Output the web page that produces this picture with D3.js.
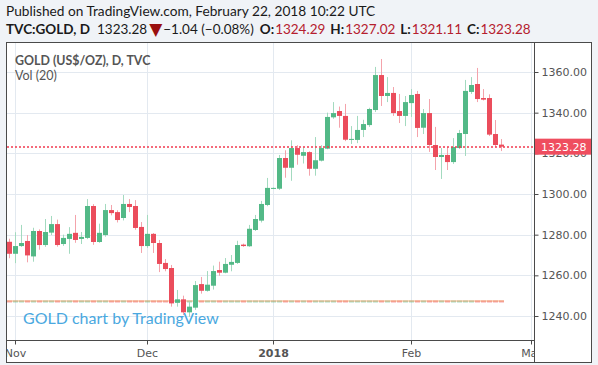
<!DOCTYPE html>
<html><head><meta charset="utf-8">
<script src="https://cdn.jsdelivr.net/npm/d3@7"></script>
<style>
html,body{margin:0;padding:0;background:#f0f3f7;}
svg{display:block;}
</style></head>
<body><svg id="c" width="598" height="365"></svg>
<script>
// ---- data (Oct 31, 2017 .. Feb 22, 2018, daily, weekdays) ----
const openV  = [1276.5,1270.6,1274.4,1276.9,1269.3,1281.8,1274.9,1281.0,1285.2,1275.4,1277.9,1280.9,1277.9,1278.4,1294.1,1276.4,1279.8,1292.1,1291.1,1288.2,1295.1,1294.1,1283.8,1274.4,1280.4,1275.9,1266.1,1263.6,1246.5,1248.2,1241.8,1244.1,1255.7,1252.4,1254.9,1262.6,1261.3,1265.2,1266.1,1275.1,1274.3,1282.3,1286.9,1294.6,1302.6,1302.6,1317.7,1312.9,1322.6,1318.8,1320.6,1312.4,1316.4,1322.3,1337.7,1340.8,1338.4,1326.6,1326.6,1331.5,1333.9,1341.3,1358.5,1348.2,1349.7,1340.8,1338.4,1344.7,1349.2,1332.6,1339.8,1324.1,1318.2,1319.2,1315.7,1322.6,1329.5,1350.2,1354.1,1347.2,1347.2,1329.5,1324.29];
const highV  = [1278.0,1281.2,1284.8,1279.8,1283.4,1282.6,1287.7,1289.2,1287.4,1280.0,1283.7,1289.7,1281.3,1297.5,1295.0,1285.4,1295.1,1294.6,1292.0,1299.5,1297.5,1297.0,1286.2,1289.7,1280.8,1277.4,1268.0,1265.1,1252.8,1250.0,1247.0,1257.2,1259.2,1262.1,1264.8,1266.7,1268.5,1270.0,1277.0,1275.6,1284.8,1289.7,1296.6,1307.9,1303.2,1319.2,1321.5,1326.4,1324.0,1323.0,1321.0,1328.0,1324.0,1340.0,1345.2,1343.0,1344.3,1333.4,1338.4,1336.5,1342.4,1362.5,1366.4,1357.5,1352.6,1349.2,1348.2,1351.6,1350.7,1341.8,1346.7,1333.0,1322.6,1323.1,1327.5,1331.5,1356.1,1357.5,1362.0,1351.6,1349.0,1336.4,1327.02];
const lowV   = [1268.4,1266.0,1274.0,1266.4,1266.7,1272.6,1274.0,1279.8,1274.1,1274.5,1270.6,1276.0,1275.4,1277.8,1275.0,1276.0,1279.0,1289.5,1286.0,1287.0,1291.1,1282.4,1271.0,1273.5,1271.0,1261.6,1262.0,1244.6,1244.6,1240.5,1239.6,1243.0,1251.0,1252.0,1253.0,1259.8,1261.0,1262.0,1265.6,1274.0,1274.0,1281.8,1286.0,1294.0,1302.4,1302.0,1308.0,1306.5,1314.4,1315.0,1309.0,1309.0,1316.0,1322.0,1337.0,1332.6,1326.0,1324.6,1325.0,1328.0,1333.0,1340.3,1343.3,1345.2,1338.4,1334.9,1333.4,1337.9,1328.0,1329.5,1320.7,1311.8,1307.4,1311.8,1314.8,1322.1,1318.7,1349.2,1345.2,1346.0,1328.5,1323.0,1321.11];
const closeV = [1270.6,1274.4,1275.9,1269.8,1281.8,1274.9,1281.3,1285.2,1274.9,1278.4,1280.4,1277.4,1278.9,1294.1,1276.4,1280.9,1292.1,1290.6,1287.2,1295.1,1293.6,1283.3,1274.4,1280.4,1275.9,1265.6,1263.1,1246.2,1248.2,1241.8,1244.6,1255.2,1252.4,1255.4,1262.1,1261.3,1265.6,1266.6,1274.9,1274.4,1282.9,1287.7,1295.1,1303.0,1303.0,1317.7,1312.9,1322.6,1319.3,1320.6,1312.4,1316.6,1322.6,1337.9,1339.8,1338.4,1326.7,1327.1,1331.5,1334.4,1341.8,1358.5,1348.2,1349.7,1339.8,1338.4,1345.2,1348.7,1332.5,1339.8,1324.1,1318.2,1319.2,1315.7,1323.1,1330.0,1350.7,1353.6,1346.7,1346.4,1329.2,1324.1,1323.28];
const yTicks = [1240,1260,1280,1300,1320,1340,1360];
const xTickLabels = ["Nov","Dec","2018","Feb","Mar"];
const xTickIndex  = [1,23,44,67,87];   // bar index of first trading day of month
const lastPrice = 1323.28;

const W=598,H=365;
const L=7, R=534, T=43, B=340, FR=591, FB=362;
const GREEN="#53b987", RED="#eb4d5c";
const UIFONT="Lato, 'Open Sans', sans-serif";

const svg=d3.select("#c");
svg.append("rect").attr("width",W).attr("height",H).attr("fill","#f0f3f7");

// header
const hdr=svg.append("g").attr("font-family",UIFONT).attr("font-size",13.5).attr("fill","#1a1a1a");
hdr.append("text").attr("x",6).attr("y",16).attr("font-size",13.7).text("Published on TradingView.com, February 22, 2018 10:22 UTC");
const t2=hdr.append("text").attr("x",6).attr("y",34);
t2.append("tspan").attr("font-weight","bold").text("TVC:GOLD, D");
t2.append("tspan").attr("dx",7).text("1323.28");
t2.append("tspan").attr("dx",2).attr("fill","#9a0f0f").attr("font-size",17).attr("font-family","'DejaVu Sans', sans-serif").attr("dy",1).text("▼");
t2.append("tspan").attr("dx",1).attr("dy",-1).text("−1.04 (−0.08%)");
const red2="#b5202e";
[["O:","1324.29"],["H:","1327.02"],["L:","1321.11"],["C:","1323.28"]].forEach((p,i)=>{
  t2.append("tspan").attr("dx",i===0?6:5).attr("font-weight","bold").text(p[0]);
  t2.append("tspan").attr("dx",1).attr("fill",red2).text(p[1]);
});

// pane
svg.append("rect").attr("x",L-0.5).attr("y",T-0.5).attr("width",FR-L+1).attr("height",FB-T+1)
  .attr("fill","#fff").attr("stroke","#4a4a4a").attr("stroke-width",1);

const x=d3.scaleLinear().domain([0,87]).range([9,531]);
const y=d3.scaleLinear().domain([1240,1360]).range([316,72]);

const defs=svg.append("defs");
defs.append("clipPath").attr("id","cp").append("rect").attr("x",L).attr("y",T).attr("width",R-L).attr("height",B-T);
defs.append("clipPath").attr("id","cpx").append("rect").attr("x",L).attr("y",0).attr("width",R-L).attr("height",FB-B-0.5);

const plot=svg.append("g").attr("clip-path","url(#cp)");
// grid
plot.selectAll("line.hg").data(yTicks).join("line").attr("class","hg").attr("x1",L).attr("x2",R)
  .attr("y1",d=>Math.round(y(d))+0.5).attr("y2",d=>Math.round(y(d))+0.5).attr("stroke","#e3e9f0");
plot.selectAll("line.vg").data(xTickIndex).join("line").attr("class","vg").attr("y1",T).attr("y2",B)
  .attr("x1",d=>Math.round(x(d))+0.5).attr("x2",d=>Math.round(x(d))+0.5).attr("stroke","#e3e9f0");

// watermark
plot.append("text").attr("x",23).attr("y",324).attr("font-family",UIFONT)
  .attr("font-size",16).attr("fill","#4aa8e0").text("GOLD chart by TradingView");

// legend
plot.append("text").attr("x",15).attr("y",65).attr("font-family",UIFONT)
  .attr("font-size",12.4).attr("font-weight","bold").attr("fill","#555").text("GOLD (US$/OZ), D, TVC");
plot.append("text").attr("x",15).attr("y",80).attr("font-family",UIFONT)
  .attr("font-size",12.5).attr("fill","#555").text("Vol (20)");

const idx=d3.range(openV.length);
const up=i=>closeV[i]>=openV[i];
// volume (spot index has no volume: minimal bars)
plot.selectAll("rect.vol").data(idx).join("rect").attr("class","vol")
  .attr("x",i=>Math.round(x(i))-2).attr("width",5).attr("y",300.5).attr("height",2)
  .attr("fill",i=>up(i)?GREEN:RED).attr("opacity",0.5);
plot.append("line").attr("x1",x(0)-3).attr("x2",x(openV.length-1)+3).attr("y1",301).attr("y2",301)
  .attr("stroke","#f39a5c").attr("stroke-width",1).attr("opacity",0.8);

// wicks
plot.selectAll("line.wick").data(idx).join("line").attr("class","wick")
  .attr("x1",i=>Math.round(x(i))+0.5).attr("x2",i=>Math.round(x(i))+0.5)
  .attr("y1",i=>y(highV[i])).attr("y2",i=>y(lowV[i]))
  .attr("stroke",i=>up(i)?"#a3dabf":"#f4a3ab").attr("stroke-width",1);
// bodies
plot.selectAll("rect.body").data(idx).join("rect").attr("class","body")
  .attr("x",i=>Math.round(x(i))-2).attr("width",5)
  .attr("y",i=>y(Math.max(openV[i],closeV[i])))
  .attr("height",i=>Math.max(1,Math.abs(y(openV[i])-y(closeV[i]))))
  .attr("fill",i=>up(i)?GREEN:RED);

// last price line (dashed red)
plot.append("path")
  .attr("d",`M${L},${Math.round(y(lastPrice))}H${R}`)
  .style("stroke","#f23a4f").style("stroke-width","1.5px").style("stroke-dasharray","2 2")
  .style("fill","none");

// axes separators
svg.append("line").attr("x1",R+0.5).attr("x2",R+0.5).attr("y1",T).attr("y2",FB).attr("stroke","#4a4a4a");
svg.append("line").attr("x1",L).attr("x2",R).attr("y1",B+0.5).attr("y2",B+0.5).attr("stroke","#4a4a4a");

// y axis
const ya=svg.append("g").attr("transform",`translate(${R+0.5},0)`)
  .call(d3.axisRight(y).tickValues(yTicks).tickSize(4).tickPadding(3).tickFormat(d3.format(".2f")));
ya.select(".domain").remove();
ya.selectAll(".tick line").attr("stroke","#4a4a4a");
ya.selectAll(".tick text").attr("font-family","'DejaVu Sans', sans-serif").attr("font-size",11).attr("fill","#555");

// last price label (covers the 1320 tick label, as in the original)
svg.append("rect").attr("x",R+1).attr("y",y(lastPrice)-8).attr("width",FR-R-1).attr("height",16).attr("fill","#ef4d5f");
svg.append("text").attr("x",R+7).attr("y",y(lastPrice)+4).attr("font-family","'DejaVu Sans', sans-serif")
  .attr("font-size",11).attr("fill","#fff").text(lastPrice.toFixed(2));

// x axis
const xa=svg.append("g").attr("transform",`translate(0,${B+0.5})`).attr("clip-path","url(#cpx)")
  .call(d3.axisBottom(x).tickValues(xTickIndex).tickSize(4).tickPadding(5).tickFormat((d,i)=>xTickLabels[i]));
xa.select(".domain").remove();
xa.selectAll(".tick line").attr("stroke","#4a4a4a");
xa.selectAll(".tick text").attr("font-family","'DejaVu Sans', sans-serif").attr("font-size",11).attr("fill","#555")
  .attr("font-weight",(d,i)=>xTickLabels[i]==="2018"?"bold":"normal");
</script></body></html>
